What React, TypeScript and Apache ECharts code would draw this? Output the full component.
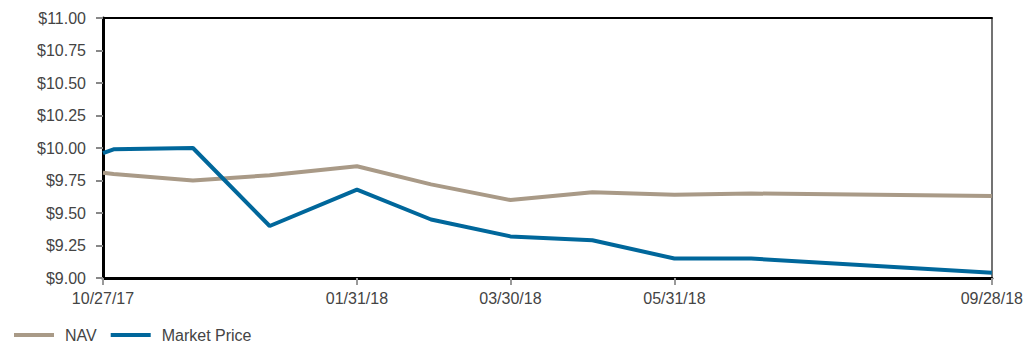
import React, { useEffect, useRef } from "react";
import * as echarts from "echarts";

const dates = [
  "2017-10-27", "2017-10-31", "2017-11-30", "2017-12-29", "2018-01-31",
  "2018-02-28", "2018-03-30", "2018-04-30", "2018-05-31", "2018-06-29", "2018-09-28",
];
const navValues = [9.81, 9.80, 9.75, 9.79, 9.86, 9.72, 9.60, 9.66, 9.64, 9.65, 9.63];
const marketValues = [9.96, 9.99, 10.0, 9.40, 9.68, 9.45, 9.32, 9.29, 9.15, 9.15, 9.04];
const xTickDates = ["2017-10-27", "2018-01-31", "2018-03-30", "2018-05-31", "2018-09-28"];
const yMin = 9;
const yMax = 11;
const yStep = 0.25;

const ts = (d: string) => {
  const [y, m, day] = d.split("-").map(Number);
  return Date.UTC(y, m - 1, day);
};
const pad = (n: number) => (n < 10 ? "0" + n : "" + n);
const fmtDate = (v: number) => {
  const d = new Date(v);
  return `${pad(d.getUTCMonth() + 1)}/${pad(d.getUTCDate())}/${pad(d.getUTCFullYear() % 100)}`;
};

const FONT = "'Liberation Sans', Arial, sans-serif";

export default function App() {
  const ref = useRef<HTMLDivElement>(null);
  useEffect(() => {
    if (!ref.current) return;
    const chart = echarts.init(ref.current, undefined, { renderer: "svg" });
    const xMin = ts(dates[0]);
    const xMax = ts(dates[dates.length - 1]);
    const tickVals = xTickDates.map(ts);
    chart.setOption({
      animation: false,
      grid: { left: 103, top: 18, right: 33, bottom: 65, containLabel: false },
      legend: {
        left: 14,
        top: 327,
        padding: 0,
        icon: "rect",
        itemWidth: 40,
        itemHeight: 4,
        itemGap: 14,
        textStyle: { color: "#444", fontSize: 16, fontFamily: FONT, padding: [0, 0, 0, 6] },
        data: ["NAV", "Market Price"],
      },
      xAxis: [
        {
          type: "value",
          min: xMin,
          max: xMax,
          axisLine: { show: true, onZero: false, lineStyle: { color: "#000", width: 3 } },
          axisTick: {
            show: true,
            customValues: tickVals,
            length: 7,
            lineStyle: { color: "#999", width: 2 },
          },
          axisLabel: {
            customValues: tickVals,
            formatter: (v: number) => fmtDate(v),
            color: "#444",
            fontSize: 16,
            fontFamily: FONT,
            margin: 12,
            showMinLabel: true,
            showMaxLabel: true,
          },
          splitLine: { show: false },
        },
        {
          type: "value",
          position: "top",
          min: xMin,
          max: xMax,
          axisLine: { show: true, onZero: false, lineStyle: { color: "#000", width: 2 } },
          axisTick: { show: false },
          axisLabel: { show: false },
          splitLine: { show: false },
        },
      ],
      yAxis: [
        {
          type: "value",
          min: yMin,
          max: yMax,
          interval: yStep,
          axisLine: { show: true, lineStyle: { color: "#000", width: 3 } },
          axisTick: { show: true, length: 7, lineStyle: { color: "#888", width: 2 } },
          axisLabel: {
            formatter: (v: number) => "$" + v.toFixed(2),
            color: "#444",
            fontSize: 16,
            fontFamily: FONT,
            margin: 17,
          },
          splitLine: { show: false },
        },
        {
          type: "value",
          position: "right",
          min: yMin,
          max: yMax,
          interval: yStep,
          axisLine: { show: true, lineStyle: { color: "#444", width: 1.5 } },
          axisTick: { show: false },
          axisLabel: { show: false },
          splitLine: { show: false },
        },
      ],
      series: [
        {
          name: "NAV",
          type: "line",
          showSymbol: false,
          symbol: "none",
          color: "#a99a87",
          lineStyle: { width: 4, color: "#a99a87" },
          data: dates.map((d, i) => [ts(d), navValues[i]]),
        },
        {
          name: "Market Price",
          type: "line",
          showSymbol: false,
          symbol: "none",
          color: "#00679b",
          lineStyle: { width: 4, color: "#00679b" },
          data: dates.map((d, i) => [ts(d), marketValues[i]]),
        },
      ],
    });
    return () => chart.dispose();
  }, []);
  return <div ref={ref} style={{ width: 1026, height: 343, position: "absolute", left: 0, top: 0 }} />;
}
